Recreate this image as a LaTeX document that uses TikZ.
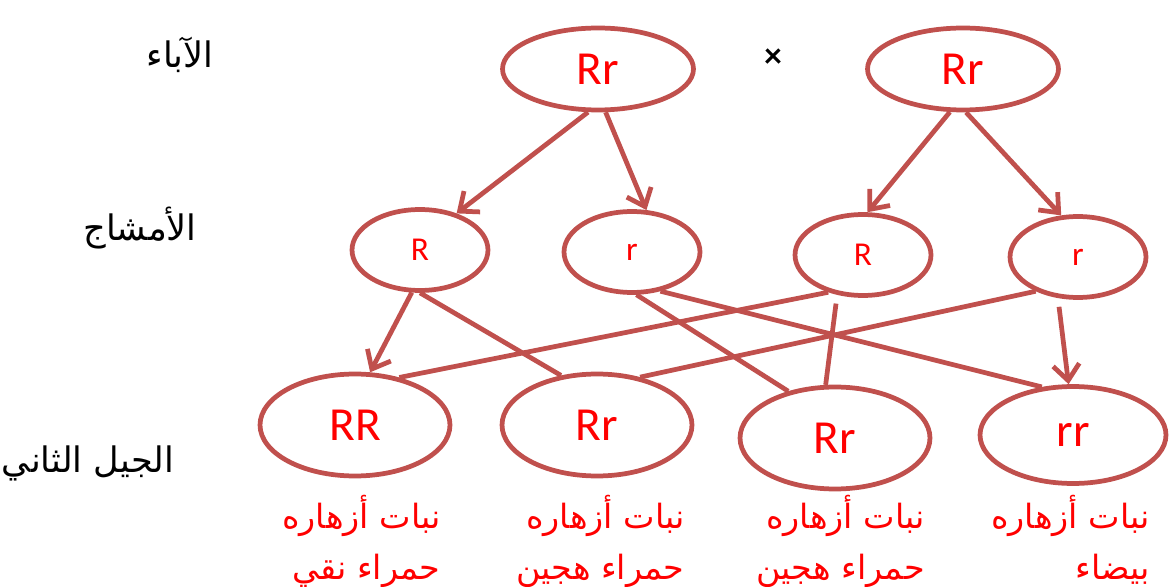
\documentclass[tikz,border=0pt]{standalone}
\usepackage{fontspec}
\setmainfont{Carlito}
\newfontfamily\arabicfont[Script=Arabic]{DejaVu Sans}
\TeXXeTstate=1
\usetikzlibrary{shapes.geometric,arrows.meta}
\definecolor{cellred}{RGB}{192,80,77}
\tikzstyle{cell} = [
  ellipse,
  draw=cellred,
  line width=2.7pt,
  text=red,
  inner sep=0pt,
]
\tikzstyle{parent} = [cell, minimum width=3.82cm, minimum height=1.64cm, font=\fontsize{27}{30}\selectfont]
\tikzstyle{gamete} = [cell, minimum width=2.72cm, minimum height=1.62cm, font=\fontsize{19}{20}\selectfont]
\tikzstyle{offspring} = [cell, minimum width=3.8cm, minimum height=2.04cm, font=\fontsize{27}{30}\selectfont]
\tikzstyle{cross} = [draw=cellred, line width=2.7pt]
\tikzstyle{gene} = [cross, -{Straight Barb[length=9pt,width=15pt]}]
\tikzstyle{rowlabel} = [font=\arabicfont\fontsize{20}{24}\selectfont]
\tikzstyle{trait} = [font=\arabicfont\fontsize{19}{29}\selectfont, text=red, align=right, anchor=north east, inner sep=0pt]

\begin{document}
\begin{tikzpicture}[x=0.02cm, y=-0.02cm]
  \useasboundingbox (0,0) rectangle (1169,587);

  % Parents
  \node[parent] (P1) at (598,69) {Rr};
  \node[parent] (P2) at (963,69) {Rr};
  \node[font=\bfseries\fontsize{20}{22}\selectfont] (X) at (773,58) {×};

  % Gametes
  \node[gamete] (G1) at (420,250) {R};
  \node[gamete] (G2) at (632,252) {r};
  \node[gamete] (G3) at (863,255) {R};
  \node[gamete] (G4) at (1078,257) {r};

  % Second generation
  \node[offspring] (RR) at (355,425) {RR};
  \node[offspring] (Rr1) at (597,425) {Rr};
  \node[offspring] (Rr2) at (835,438) {Rr};
  \node[offspring, minimum width=3.72cm, minimum height=1.94cm] (rr) at (1073,435) {rr};

  % Parents to gametes
  \draw[gene] (P1.257) -- (G1.45);
  \draw[gene] (P1.280) -- (G2.71);
  \draw[gene] (P2.253) -- (G3.84);
  \draw[gene] (P2.274) -- (G4.112);

  % Gametes to second generation
  \draw[gene] (G1.259) -- (RR.74);
  \draw[cross] (G1.270) -- (Rr1.126);
  \draw[cross] (G2.276) -- (Rr2.135);
  \draw[cross] (G2.306) -- (rr.123);
  \draw[cross] (G3.227) -- (RR.47);
  \draw[cross, shorten <=5pt] (G3.237) -- (Rr2.100);
  \draw[cross] (G4.219) -- (Rr1.48);
  \draw[gene, shorten <=5pt] (G4.244) -- (rr.95);

  % Labels
  \node[rowlabel] (L1) at (180,55) {\beginR الآباء\endR};
  \node[rowlabel] (L2) at (140,228) {\beginR الأمشاج\endR};
  \node[rowlabel] (L3) at (88,463) {\beginR الجيل الثاني\endR};

  \node[trait] (T1) at (441,495) {\beginR نبات أزهاره\endR\\\beginR حمراء نقي\endR};
  \node[trait] (T2) at (685,495) {\beginR نبات أزهاره\endR\\\beginR حمراء هجين\endR};
  \node[trait] (T3) at (925,495) {\beginR نبات أزهاره\endR\\\beginR حمراء هجين\endR};
  \node[trait] (T4) at (1150,495) {\beginR نبات أزهاره\endR\\\beginR بيضاء\endR};
\end{tikzpicture}
\end{document}
